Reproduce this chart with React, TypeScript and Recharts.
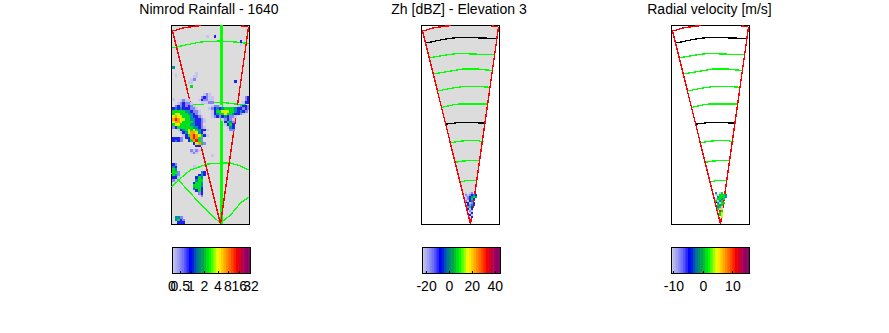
import { Area, Bar, ComposedChart, Line, ReferenceArea, Scatter, XAxis, YAxis } from 'recharts';

const FONT = '"Liberation Sans", Arial, sans-serif';
const GREEN = '#00ff00';
const RED = '#ff0000';

// map offsets in pixels-as-km from the radar, x east, y north
const xDomain = [-49.5, 28.5];
const yDomain = [0, 199];

const levelColors = ['', '#c6c6ec', '#8484f4', '#2020f0', '#0090a8', '#00e020', '#d8f400', '#ff9c00', '#ff1000'];

// [row y from top, first col, levels]
const rainRows = [
  [35, 13, [1]], [35, 16, [3]], [40, 26, [3]], [43, 26, [1]], [66, 0, [4]], [74, 1, [1]],
  [72, 9, [1]], [75, 8, [1, 1]], [78, 7, [1, 2]], [81, 6, [1, 1]], [80, 24, [3]], [85, 7, [5]],
  [93, 12, [1, 2, 1]], [96, 11, [2, 3, 2, 1, 1]], [96, 28, [2, 3]], [98.7, 10, [1, 3, 2, 2, 1, 1]], [98.7, 28, [2, 3]],
  [98, 0, [1]], [101, 11, [1, 1, 1, 2, 2]], [101, 27, [1, 3, 3]],
  [99.4, 3, [1, 2, 1, 1]], [102, 2, [1, 2, 3, 2, 2, 1]],
  [104.7, 1, [2, 3, 2, 3, 2, 3, 2, 1]], [104.7, 15, [1, 2, 2, 1]], [104.7, 25, [1, 2, 3, 3, 2]],
  [107.3, 0, [3, 4, 3, 4, 3, 3, 3, 2, 2, 1]], [107.3, 14, [1, 2, 3, 4, 3, 4, 5, 5, 5, 5, 4, 3, 3, 2, 3, 2]],
  [110, 0, [5, 5, 5, 5, 5, 4, 4, 3, 2, 2, 1]], [110, 15, [1, 3, 5, 5, 6, 6, 6, 5, 5, 4, 3, 4, 3, 2]],
  [112.7, 0, [5, 6, 6, 5, 5, 5, 4, 4, 3, 2, 1]], [112.7, 15, [1, 3, 4, 5, 5, 6, 5, 5, 4, 3, 3, 2, 1]],
  [115.3, 0, [6, 7, 6, 6, 5, 5, 5, 4, 3, 3, 2, 1]], [115.3, 15, [1, 2, 3, 2, 3, 4, 3, 2, 2, 1]],
  [118, 0, [7, 8, 7, 6, 6, 5, 5, 4, 4, 3, 3, 2, 1]], [118, 19, [1, 2, 3, 2, 1]],
  [120.7, 0, [6, 7, 7, 6, 5, 5, 5, 5, 4, 3, 3, 2, 1]], [120.7, 20, [3, 5, 4, 2]],
  [123.3, 0, [5, 6, 6, 5, 5, 5, 5, 4, 4, 3, 3, 2]], [123.3, 20, [1, 3, 5, 3]],
  [126, 0, [2, 3, 5, 5, 5, 5, 5, 5, 4, 4, 3, 2, 1]], [126, 21, [1, 4, 3]],
  [128.7, 2, [1, 3, 4, 5, 6, 5, 6, 5, 4, 3, 3, 1]], [128.7, 22, [2, 2]],
  [131.3, 3, [1, 3, 4, 6, 7, 7, 6, 4, 3, 1]],
  [134, 4, [1, 3, 5, 7, 8, 7, 6, 5, 3, 1]],
  [136.7, 5, [3, 3, 7, 8, 7, 5, 2]], [137, 0, [3, 3, 3, 2]],
  [139.3, 6, [3, 5, 7, 8, 5, 2]], [139.7, 0, [3, 4, 3, 2]],
  [142, 8, [3, 6, 7, 5, 2]], [144.6, 9, [3, 3, 1]],
  [149, 7, [2, 1, 2, 1]], [151.6, 7, [1, 2, 1]], [154, 15, [1]],
  [163, 0, [3, 2]], [165, 8, [1]], [165.7, 0, [4, 3]], [168.3, 0, [5, 4]], [171, 0, [5, 5, 2]], [171, 11, [4, 3]],
  [173.6, 0, [5, 4, 2]], [173.6, 10, [3, 4, 3]], [176.3, 0, [3, 3, 1]], [176.3, 9, [3, 5, 4]],
  [179, 0, [2, 1]], [179, 9, [4, 5, 5]], [181.6, 8, [3, 5, 5, 4]], [184.2, 8, [5, 5, 5, 4]],
  [186.8, 8, [4, 5, 5, 3]], [189.4, 9, [3, 5, 3]], [192, 10, [2, 3]], [194.6, 11, [2]],
  [216, 1, [4, 4, 2]], [218.6, 1, [4, 5, 3, 2]], [221, 2, [3, 3, 3]],
];

// [row y from top, x from radar, levels], 0 means no echo
const zhRows = [
  [192, -3, [1, 0, 1, 2]], [194, -3, [2, 1, 2, 3, 4, 3]], [196, -3, [1, 2, 3, 4, 5, 4]], [198, -3, [1, 2, 3, 5, 3]],
  [200, -3, [2, 1, 3, 4]], [202, -2, [3, 1, 2, 3]], [204, -2, [3, 2, 4, 3]], [206, -2, [2, 5, 3]],
  [208, -2, [3, 1, 3]], [210, -1, [2, 1]], [212, -1, [1, 3]], [214, -1, [3, 1]], [216, 0, [3]],
];
const velRows = [
  [192, -3, [4, 0, 1, 5]], [194, -3, [1, 1, 5, 5, 5, 4]], [196, -3, [0, 4, 5, 5, 5, 4]], [198, -3, [1, 5, 5, 4, 5]],
  [200, -3, [5, 1, 4, 5]], [202, -2, [4, 1, 5, 5]], [204, -2, [5, 4, 5]], [206, -2, [4, 5, 1]],
  [208, -2, [5, 1, 6]], [210, -1, [8, 5]], [212, -1, [5, 6]], [214, -1, [5, 6]], [216, 0, [6]],
];

const sectorLeft = [[-48, 193], [0, 0]];
const sectorRight = [[0, 0], [28, 196.5]];
const arcLeft = [[-48, 193], [-44, 194], [-38, 196], [-28, 197.5], [-19, 198.5]];
const arcRight = [[21, 198], [28, 197.5]];
const sectorFill = [
  { x: -48, range: [192, 193] }, { x: -38, range: [152, 196] }, { x: -19, range: [76, 199] },
  { x: 0, range: [0, 199] }, { x: 21, range: [147, 199] }, { x: 28, range: [196, 197] },
];

const greenRings = [
  [[-42, 166], [-33, 167.5], [-22, 169.5], [-12, 170.5], [3, 170], [15, 169.5], [24, 169.5]],
  [[-37, 150], [-25, 152], [-7, 155], [8, 155], [10, 154.5], [23, 153.5]],
  [[-33, 133], [-18, 136], [-7, 137.5], [10, 137.5], [21, 136.5]],
  [[-29, 116.5], [-18, 119], [-12, 120], [17, 120]],
  [[-20, 81.3], [-13, 82.3], [-3, 83.7], [5, 83.7], [13, 82.3]],
  [[-15, 61.7], [-8, 63], [9.5, 63.7]],
  [[-10, 42], [-5, 43.3], [6, 43.7]],
];
const blackRings = [
  [[-44, 181], [-35, 183], [-22, 185.5], [-12, 186.5], [15, 186], [27, 185]],
  [[-25, 100], [-18, 100.5], [-12, 101.5], [15, 101]],
  [[-4.5, 21.7], [0, 22.7], [3, 22.7]],
];

const rainRings = [
  [[-48, 176], [-35, 179], [-20, 182], [0, 183], [15, 182], [28.5, 180.5]],
  [[-30, 118.5], [-10, 121], [1.5, 121.7], [15, 120], [28.5, 118.5]],
  [[-49, 37], [-42, 44], [-30, 54], [-13, 60], [1.5, 61], [10, 61], [20, 58], [28.5, 54]],
  [[-49, 51], [-42, 44], [-22, 22], [-7, 7], [0, 1], [10, 9], [20, 21], [28.5, 27]],
];
const rainAxis = [[0.5, 0], [0.5, 199]];

const barColors = [
  '#c8c8e8', '#b4b4ec', '#a0a0f0', '#8888f4', '#7070f8', '#5050fc', '#2828ff', '#0000ff', '#0020e0', '#0050b8',
  '#007890', '#008c70', '#00a050', '#00c030', '#00e010', '#00ff00', '#50ff00', '#a0ff00', '#e8ff00', '#ffe800',
  '#ffc800', '#ffa800', '#ff8800', '#ff6800', '#ff4800', '#ff2000', '#f00000', '#d80020', '#c00040', '#a00060',
  '#900060', '#800060',
];

const rainTickAt = [0, 8.3, 19, 32.3, 46, 56, 67.3, 79];
const rainTickLabels = ['0', '0.5', '1', '2', '4', '8', '16', '32'];
const zhTicks = [-20, 0, 20, 40];
const velTicks = [-10, 0, 10];

const toCells = (rows: any[], x0: number, step: number) =>
  rows.flatMap(([row, start, levels]) =>
    levels.map((level: number, i: number) => ({ x: x0 + start * step + i * step, y: 224 - row, level })).filter((c: any) => c.level > 0),
  );

const rainCells = toCells(rainRows, -48.5, 2.6);
const zhCells = toCells(zhRows, 0, 2);
const velCells = toCells(velRows, 0, 2);

const thin = (pts: any[], color: string, key: string, width = 1.3, xKey = 'x') => (
  <Line
    key={key}
    data={pts.map((p) => ({ [xKey]: p[0], y: p[1] }))}
    dataKey="y"
    stroke={color}
    strokeWidth={width}
    dot={false}
    legendType="none"
    shapeRendering="crispEdges"
    isAnimationActive={false}
  />
);

const square = (size: number) => (props: any) => (
  <rect
    x={props.cx}
    y={props.cy}
    width={size}
    height={size}
    fill={levelColors[props.payload.level]}
    shapeRendering="crispEdges"
  />
);

// the band's centre stays where the scale put it, the width just closes the gaps
const band = (props: any) => (
  <rect x={props.x + props.width / 2 - 1.5} y={props.y} width={3} height={props.height} fill={props.payload.color} />
);

const edges = [
  thin(sectorLeft, RED, 'el', 1.4),
  thin(sectorRight, RED, 'er', 1.4),
  thin(arcLeft, RED, 'eal', 1.4),
  thin(arcRight, RED, 'ear', 1.4),
];

const MapPanel = ({ left, rain, grey, cells, size }: any) => (
  <ComposedChart
    width={80}
    height={201}
    margin={{ top: 1, right: 1, bottom: 1, left: 1 }}
    style={{ position: 'absolute', left, top: 24 }}
  >
    <XAxis dataKey="x" type="number" domain={xDomain} hide allowDataOverflow />
    <YAxis dataKey="y" type="number" domain={yDomain} hide allowDataOverflow />
    {rain && <ReferenceArea x1={xDomain[0]} x2={xDomain[1]} y1={0} y2={199} fill="#dcdcdc" fillOpacity={1} stroke="none" />}
    {grey && (
      <Area data={sectorFill} dataKey="range" type="linear" fill="#dcdcdc" fillOpacity={1} stroke="none" isAnimationActive={false} />
    )}
    <Scatter data={cells} dataKey="y" shape={square(size)} isAnimationActive={false} />
    {rain && rainRings.map((r, i) => thin(r, GREEN, 'ring' + i))}
    {rain && thin(rainAxis, GREEN, 'axis', 3)}
    {!rain && greenRings.map((r, i) => thin(r, GREEN, 'g' + i))}
    {!rain && blackRings.map((r, i) => thin(r, '#000000', 'b' + i))}
    {edges}
    <ReferenceArea x1={xDomain[0]} x2={xDomain[1]} y1={0} y2={199} fill="none" stroke="#000000" strokeWidth={1} shapeRendering="crispEdges" />
  </ComposedChart>
);

const ColorBar = ({ left, domain, ticks, labels }: any) => {
  const [lo, hi] = domain;
  const step = (hi - lo) / barColors.length;
  const rows = barColors.map((color, i) => ({ at: lo + step * (i + 0.5), v: 1, color }));
  const box = [[lo, 0], [lo, 1], [hi, 1], [hi, 0], [lo, 0]];
  return (
    <ComposedChart
      width={129}
      height={60}
      data={rows}
      margin={{ top: 1, right: 25, bottom: 0, left: 25 }}
      style={{ position: 'absolute', left, top: 246 }}
    >
      <XAxis
        dataKey="at"
        type="number"
        domain={domain}
        ticks={ticks}
        tickFormatter={(v: number, i: number) => (labels ? labels[i] : String(v))}
        tickSize={0}
        tickMargin={7}
        interval={0}
        axisLine={false}
        tickLine={false}
        tick={{ fill: '#000000', fontSize: 14, fontFamily: FONT }}
        height={32}
        allowDataOverflow
      />
      <YAxis type="number" domain={[0, 1]} hide allowDataOverflow />
      <Bar dataKey="v" shape={band} isAnimationActive={false} />
      {ticks.map((t: number) => thin([[t, 0], [t, 0.1]], '#000000', 'tick' + t, 1, 'at'))}
      {thin(box, '#000000', 'box', 1.2, 'at')}
    </ComposedChart>
  );
};

const Title = ({ x, text }: any) => (
  <div
    style={{
      position: 'absolute',
      left: x - 120,
      width: 240,
      top: 1,
      textAlign: 'center',
      fontFamily: FONT,
      fontSize: 14,
      lineHeight: '16px',
      color: '#000000',
    }}
  >
    {text}
  </div>
);

export default function App() {
  return (
    <div style={{ position: 'absolute', left: 0, top: 0, width: 889, height: 333, background: '#ffffff', overflow: 'hidden' }}>
      <Title x={209} text="Nimrod Rainfall - 1640" />
      <Title x={459} text="Zh [dBZ] - Elevation 3" />
      <Title x={709.5} text="Radial velocity [m/s]" />
      <MapPanel left={170} rain cells={rainCells} size={2.7} />
      <MapPanel left={420} grey cells={zhCells} size={2} />
      <MapPanel left={670} cells={velCells} size={2} />
      <ColorBar left={147} domain={[0, 79]} ticks={rainTickAt} labels={rainTickLabels} />
      <ColorBar left={397} domain={[-24, 45]} ticks={zhTicks} />
      <ColorBar left={646} domain={[-11, 15.8]} ticks={velTicks} />
    </div>
  );
}
